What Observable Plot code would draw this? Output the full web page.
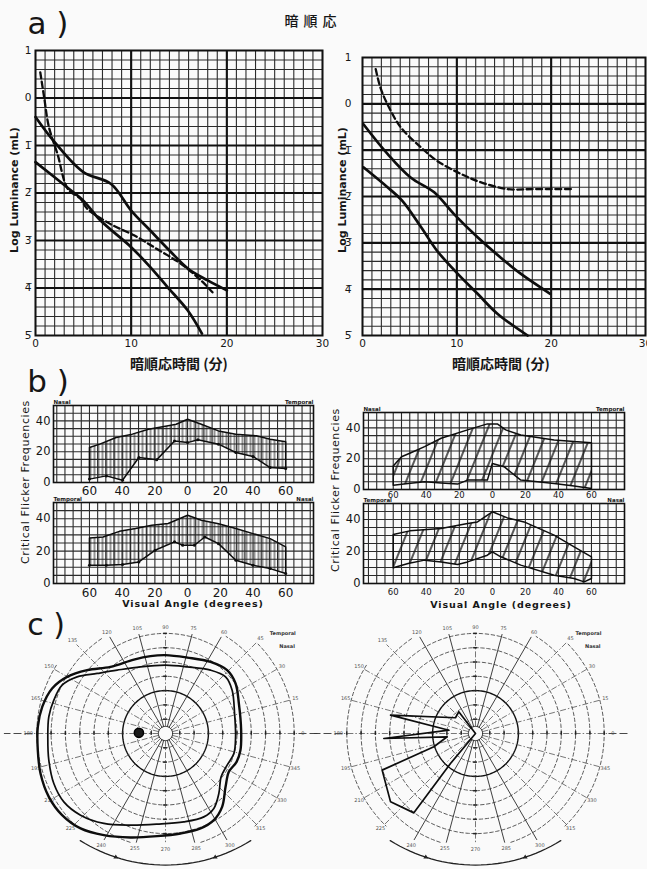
<!DOCTYPE html>
<html lang="ja">
<head>
<meta charset="utf-8">
<script src="https://cdn.jsdelivr.net/npm/d3@7"></script>
<script src="https://cdn.jsdelivr.net/npm/@observablehq/plot@0.6"></script>
<style>
html,body{margin:0;padding:0;background:#fafafa;}
#page{position:relative;width:647px;height:869px;overflow:hidden;background:#fafafa;color:#161616;font-family:"DejaVu Sans",sans-serif;}
.t{position:absolute;white-space:nowrap;line-height:1;}
.p{position:absolute;}
</style>
</head>
<body>
<div id="page"></div>
<script>
// ================= DATA =================
// a) 暗順応 : dark adaptation (time in min, log luminance in mL)
const timeTicks = [0, 10, 20, 30];
const lumTicks = [1, 0, -1, -2, -3, -4, -5];

const aLeftUpperT = [0, 2, 5, 7.9, 10, 12, 14, 16, 18, 20];
const aLeftUpperL = [-0.40, -0.93, -1.56, -1.81, -2.37, -2.79, -3.21, -3.60, -3.84, -4.05];
const aLeftLowerT = [0, 3.3, 5, 6.8, 10, 12, 13.8, 15.9, 17.4];
const aLeftLowerL = [-1.35, -1.88, -2.16, -2.58, -3.14, -3.56, -3.98, -4.47, -4.96];
const aLeftDashT = [0.5, 0.9, 1.4, 2.3, 3.4, 4.7, 5.4, 7.8, 10.3, 12.7, 15.2, 17.3, 18.5];
const aLeftDashL = [0.54, 0.02, -0.61, -1.18, -1.92, -2.12, -2.33, -2.65, -2.89, -3.18, -3.49, -3.84, -4.09];

const aRightUpperT = [0.1, 2.65, 5.1, 7.6, 9.7, 12.2, 14.6, 16.8, 19.9];
const aRightUpperL = [-0.44, -1.08, -1.59, -1.91, -2.38, -2.88, -3.31, -3.67, -4.10];
const aRightLowerT = [0.1, 2.65, 4.2, 6.2, 7.9, 10.1, 12.2, 14.3, 17.5];
const aRightLowerL = [-1.37, -1.80, -2.09, -2.66, -3.17, -3.67, -4.10, -4.53, -5.0];
const aRightDashT = [1.4, 1.9, 2.65, 4.06, 6.2, 7.9, 10.4, 12.5, 15.4, 18.2, 22.1];
const aRightDashL = [0.75, 0.35, -0.01, -0.51, -0.94, -1.23, -1.51, -1.69, -1.84, -1.84, -1.84];

// b) Critical flicker frequencies vs visual angle (degrees)
const angleTicks = [-60, -40, -20, 0, 20, 40, 60];
const cffTicks = [0, 20, 40];

const bLT_upX = [-60, -53.7, -43.7, -33.8, -23.9, -11.9, -7, 0, 8.4, 18.9, 29.5, 42.1, 50.5, 60];
const bLT_upY = [22.7, 24.9, 29.2, 31.4, 34.6, 36.8, 37.8, 41.1, 37.8, 33.5, 31.4, 30.3, 28.1, 26.4];
const bLT_loX = [-60, -49.7, -39.8, -29.8, -18.9, -8, 0, 6.3, 18.9, 29.5, 40, 50.5, 60];
const bLT_loY = [2.2, 4.3, 1.5, 16.2, 14.7, 27.0, 25.9, 27.7, 24.9, 19.5, 16.9, 9.7, 9.1];

const bLB_upX = [-60, -51.7, -41.7, -31.8, -21.9, -11.9, -5, 0, 8.4, 18.9, 29.5, 40, 50.5, 60];
const bLB_upY = [28.1, 28.7, 32.2, 33.9, 35.9, 37.0, 40.0, 42.1, 39.0, 36.9, 33.9, 30.8, 27.7, 22.6];
const bLB_loX = [-60, -49.7, -39.8, -29.8, -19.9, -8, -3, 4.2, 10.5, 18.9, 29.5, 40, 50.5, 60];
const bLB_loY = [11.3, 11.3, 11.7, 13.3, 20.5, 25.7, 23.6, 23.6, 28.7, 24.6, 14.4, 11.3, 9.2, 6.2];

const bRT_upX = [-60, -55, -50, -41, -31, -15, -3, 3, 8.1, 17.2, 37.4, 49.5, 60];
const bRT_upY = [15.2, 21.3, 23.5, 27.8, 33.3, 38.7, 42.6, 42.6, 38.7, 35.4, 32.2, 31.1, 30.4];
const bRT_loX = [-60, -51, -41, -31, -21, -15, -3, 0, 7.1, 17.2, 27.3, 37.4, 49.5, 60];
const bRT_loY = [2.8, 3.9, 5.0, 4.3, 3.5, 6.1, 6.1, 16.9, 14.8, 6.1, 5.0, 3.9, 2.2, 0.7];

const bRB_upX = [-60, -50, -31, -15, -9, 0, 9.1, 19.2, 37.4, 49.5, 60];
const bRB_upY = [30.6, 32.9, 34.4, 37.5, 38.5, 44.8, 41.0, 38.5, 30.2, 22.9, 16.7];
const bRB_loX = [-60, -51, -41, -31, -21, -15, -3, 0, 5.1, 17.2, 37.4, 49.5, 55.6, 60];
const bRB_loY = [9.8, 12.5, 14.6, 13.5, 11.9, 13.5, 17.7, 19.8, 16.7, 11.5, 5.2, 3.1, 1.0, 3.1];

// c) Goldmann perimetry (degrees: x horizontal, y vertical)
const ringRadii = [10, 20, 30, 40, 50, 60, 70, 80, 90];
const meridianAngles = [0, 15, 30, 45, 60, 75, 90, 105, 120, 135, 150, 165, 180, 195, 210, 225, 240, 255, 270, 285, 300, 315, 330, 345];
const meridianExtent = [92, 90, 90, 90, 78, 72, 70, 72, 78, 88, 90, 90, 92, 90, 90, 90, 86, 79, 77, 79, 86, 90, 90, 90];
const solidMeridians = [60, 75, 105, 120, 240, 255, 285, 300];

const cL_outerX = [0, 15.2, 31.5, 43.1, 49.0, 51.3, 52.9, 52.4, 49.7, 44.3, 42.0, 39.6, 33.8, 24.5, 10.5, -5.8, -24.5, -43.1, -59.4, -72.3, -81.6, -87.4, -89.3, -89.3, -86.2, -79.3, -68.8, -54.8, -38.5, -22.1, -10.5];
const cL_outerY = [54.8, 53.1, 50.1, 44.3, 35.0, 21.0, 2.3, -11.7, -19.8, -26.8, -37.3, -51.3, -60.6, -66.4, -69.9, -71.8, -72.7, -71.1, -66.4, -57.1, -44.3, -28.0, -11.7, 4.7, 18.6, 31.5, 39.6, 44.3, 46.6, 51.7, 54.1];
const cL_innerX = [0, 15.2, 31.5, 42.0, 46.6, 48.3, 49.0, 47.8, 43.1, 38.9, 37.3, 33.8, 26.8, 12.8, -5.8, -24.5, -43.1, -59.4, -71.1, -78.1, -81.6, -82.3, -81.6, -78.1, -72.3, -61.8, -47.8, -33.8, -17.5];
const cL_innerY = [47.8, 46.6, 44.3, 39.6, 30.3, 14.0, -2.3, -14.0, -22.1, -30.3, -42.0, -52.4, -58.3, -61.8, -63.4, -64.1, -62.9, -57.1, -47.8, -35.0, -18.6, -2.3, 11.7, 23.3, 33.8, 39.6, 42.0, 44.3, 46.6];
const cL_blindX = [-18.6];
const cL_blindY = [0.5];

const cR_fieldX = [0, -11.7, -14.0, -59.4, -18.6, -64.1, -19.8, -29.1, -65.3, -59.4, -43.1, -17.5];
const cR_fieldY = [0, 15.2, 11.0, 12.8, 2.3, -3.5, -2.3, -9.3, -25.6, -47.8, -55.5, -21.0];

// ================= HELPERS =================
const page = document.getElementById("page");
const SANS = '"DejaVu Sans", sans-serif';
const CJK = '"Noto Sans CJK JP", sans-serif';
const INK = "#161616";

function place(node, left, top) {
  const d = document.createElement("div");
  d.className = "p";
  d.style.left = left + "px";
  d.style.top = top + "px";
  d.appendChild(node);
  page.appendChild(d);
  return node;
}
function addText(str, x, y, o = {}) {
  const d = document.createElement("div");
  d.className = "t";
  d.textContent = str;
  d.style.left = x + "px";
  d.style.top = y + "px";
  d.style.fontSize = (o.size || 12) + "px";
  d.style.fontWeight = o.weight || 400;
  d.style.fontFamily = o.family || SANS;
  d.style.letterSpacing = (o.spacing || 0) + "px";
  d.style.color = o.color || INK;
  d.style.transform = `translate(-50%,-50%) rotate(${o.rotate || 0}deg)`;
  page.appendChild(d);
}
function addPattern(svg, id, spacing, angle, sw) {
  const ns = "http://www.w3.org/2000/svg";
  const defs = document.createElementNS(ns, "defs");
  const p = document.createElementNS(ns, "pattern");
  p.setAttribute("id", id);
  p.setAttribute("patternUnits", "userSpaceOnUse");
  p.setAttribute("width", spacing);
  p.setAttribute("height", spacing);
  p.setAttribute("patternTransform", `rotate(${angle})`);
  const l = document.createElementNS(ns, "line");
  l.setAttribute("x1", spacing / 2); l.setAttribute("x2", spacing / 2);
  l.setAttribute("y1", 0); l.setAttribute("y2", spacing);
  l.setAttribute("stroke", "#151515");
  l.setAttribute("stroke-width", sw);
  p.appendChild(l);
  defs.appendChild(p);
  svg.insertBefore(defs, svg.firstChild);
}
const zip = (xs, ys) => xs.map((x, i) => ({x, y: ys[i]}));
const svgOf = (n) => n.tagName.toLowerCase() === "svg" ? n : n.querySelector("svg");

// ================= a) =================
const lumFmt = d => d > 0 ? String(d) : d === 0 ? "0" : String(-d) + "\u0305";

function darkChart({left, top, width, height, mL, mR, mT, mB, yPad, upper, lower, dashed}) {
  const fineX = d3.range(0, 31);
  const fineY = d3.range(0, 31).map(i => +(-5 + i * 0.2).toFixed(2));
  const node = Plot.plot({
    width, height, marginLeft: mL, marginRight: mR, marginTop: mT, marginBottom: mB,
    style: {background: "transparent", fontFamily: SANS, fontSize: "10.5px", color: INK, overflow: "visible"},
    x: {domain: [0, 30], ticks: timeTicks, tickSize: 0, tickPadding: 4, label: null},
    y: {domain: [-5, 1], ticks: lumTicks, tickFormat: lumFmt, tickSize: 0, tickPadding: yPad, label: null},
    marks: [
      Plot.ruleX(fineX, {stroke: "#2b2b2b", strokeWidth: 1.1}),
      Plot.ruleY(fineY, {stroke: "#2b2b2b", strokeWidth: 1.1}),
      Plot.ruleX(timeTicks.slice(1, -1), {stroke: "#111", strokeWidth: 2.1}),
      Plot.ruleY(lumTicks.slice(1, -1), {stroke: "#111", strokeWidth: 2.1}),
      Plot.frame({stroke: "#111", strokeWidth: 2}),
      Plot.line(zip(...upper), {x: "x", y: "y", stroke: "#0d0d0d", strokeWidth: 2.7, curve: "catmull-rom"}),
      Plot.line(zip(...lower), {x: "x", y: "y", stroke: "#0d0d0d", strokeWidth: 2.7, curve: "catmull-rom"}),
      Plot.line(zip(...dashed), {x: "x", y: "y", stroke: "#0d0d0d", strokeWidth: 2.3, strokeDasharray: "6,3.5", curve: "catmull-rom"})
    ]
  });
  place(node, left, top);
}

darkChart({left: 0, top: 40, width: 330, height: 325, mL: 35, mR: 8, mT: 10, mB: 30, yPad: 4,
  upper: [aLeftUpperT, aLeftUpperL], lower: [aLeftLowerT, aLeftLowerL], dashed: [aLeftDashT, aLeftDashL]});
darkChart({left: 325, top: 40, width: 322, height: 325, mL: 37, mR: 2, mT: 17, mB: 30, yPad: 11,
  upper: [aRightUpperT, aRightUpperL], lower: [aRightLowerT, aRightLowerL], dashed: [aRightDashT, aRightDashL]});

addText("暗順応", 313, 20, {size: 14, family: CJK, spacing: 5, weight: 500});
addText("a )", 48, 23, {size: 31});
addText("Log Luminance (mL)", 14, 190, {size: 11, rotate: -90, weight: 600});
addText("Log Luminance (mL)", 342, 190, {size: 11, rotate: -90, weight: 600});
addText("暗順応時間 (分)", 179, 363, {size: 14, family: CJK, weight: 700});
addText("暗順応時間 (分)", 501, 363, {size: 14, family: CJK, weight: 700});

// ================= b) =================
let pid = 0;
function cffChart({left, width, frame, xDomain, up, lo, hatch, labelL, labelR, xFont, xPad, dots}) {
  const [fl, fr, ft, fb] = frame;
  const top = ft - 12;
  const height = (fb + 17) - top;
  const id = "hatch" + (pid++);
  const gx = d3.range(-80, 81, 5).filter(v => v > xDomain[0] + 0.5 && v < xDomain[1] - 0.5);
  const gy = d3.range(5, 50, 5);
  const poly = zip(...up).concat(zip(...lo).reverse());
  const node = Plot.plot({
    width, height, marginLeft: fl - left, marginRight: left + width - fr, marginTop: 12, marginBottom: height - 12 - (fb - ft),
    style: {background: "transparent", fontFamily: SANS, fontSize: "11.5px", color: INK, overflow: "visible"},
    x: {domain: xDomain, ticks: angleTicks, tickFormat: d => String(Math.abs(d)), tickSize: 0, tickPadding: xPad, label: null},
    y: {domain: [0, 50], ticks: cffTicks, tickSize: 0, tickPadding: 3, label: null},
    marks: [
      Plot.ruleX(gx, {stroke: "#2b2b2b", strokeWidth: 1.1}),
      Plot.ruleY(gy, {stroke: "#2b2b2b", strokeWidth: 1.1}),
      Plot.frame({stroke: "#111", strokeWidth: 1.6}),
      Plot.line(poly, {x: "x", y: "y", curve: "linear-closed", fill: `url(#${id})`, stroke: "#0d0d0d", strokeWidth: 1.5}),
      dots ? Plot.dot(zip(...lo), {x: "x", y: "y", r: 1.5, fill: "#0d0d0d"}) : null,
      Plot.text([labelL], {frameAnchor: "top-left", text: d => d, dy: -5, textAnchor: "start", fontSize: 5.5, fontWeight: "bold"}),
      Plot.text([labelR], {frameAnchor: "top-right", text: d => d, dy: -5, textAnchor: "end", fontSize: 5.5, fontWeight: "bold"})
    ]
  });
  const svg = svgOf(node);
  if (hatch === "v") addPattern(svg, id, 4, 0, 0.9);
  else addPattern(svg, id, 14, 22, 1.4);
  place(node, left, top);
  if (xFont) svg.querySelectorAll("g[aria-label='x-axis tick label'] text, g[aria-label='x-axis'] text").forEach(t => t.setAttribute("font-size", xFont));
}

cffChart({left: 0, width: 330, frame: [53, 313, 405, 482], xDomain: [-82, 77], up: [bLT_upX, bLT_upY], lo: [bLT_loX, bLT_loY], hatch: "v", labelL: "Nasal", labelR: "Temporal", xFont: 12, xPad: 4, dots: true});
cffChart({left: 0, width: 330, frame: [53, 313, 502, 583], xDomain: [-82, 77], up: [bLB_upX, bLB_upY], lo: [bLB_loX, bLB_loY], hatch: "v", labelL: "Temporal", labelR: "Nasal", xFont: 12, xPad: 5, dots: true});
cffChart({left: 325, width: 322, frame: [363, 624, 412, 489], xDomain: [-78, 80], up: [bRT_upX, bRT_upY], lo: [bRT_loX, bRT_loY], hatch: "d", labelL: "Nasal", labelR: "Temporal", xFont: 8.5, xPad: 2, dots: false});
cffChart({left: 325, width: 322, frame: [363, 624, 503, 583], xDomain: [-78, 80], up: [bRB_upX, bRB_upY], lo: [bRB_loX, bRB_loY], hatch: "d", labelL: "Temporal", labelR: "Nasal", xFont: 8.5, xPad: 5, dots: false});

addText("b )", 48, 381, {size: 31});
addText("Critical Flicker Frequencies", 25, 482, {size: 11, rotate: -90, spacing: 0.6});
addText("Critical Flicker Frequencies", 335, 490, {size: 11, rotate: -90, spacing: 0.6});
addText("Visual Angle (degrees)", 193, 604, {size: 9.5, spacing: 0.9, weight: 600});
addText("Visual Angle (degrees)", 501, 605, {size: 9.5, spacing: 0.9, weight: 600});

// ================= c) =================
function extentAt(theta) {
  const t = ((theta % 360) + 360) % 360;
  const i = Math.floor(t / 15), f = (t - i * 15) / 15;
  const a = meridianExtent[i % 24], b = meridianExtent[(i + 1) % 24];
  return a + (b - a) * f;
}
const rad = a => a * Math.PI / 180;

function perimetry({left, top, width, height, cx, cy, marks, tl}) {
  const k = 1.43;
  const xd = [(left - cx) / k, (left + width - cx) / k];
  const yd = [-(top + height - cy) / k, (cy - top) / k];
  const ringPts = [];
  for (const r of ringRadii) {
    for (let a = 0; a <= 360; a += 2) {
      const ok = extentAt(a) >= r - 0.5;
      ringPts.push({r, x: ok ? r * Math.cos(rad(a)) : NaN, y: ok ? r * Math.sin(rad(a)) : NaN});
    }
  }
  const mer = meridianAngles.map((a, i) => ({a, e: meridianExtent[i]}));
  const merSolid = mer.filter(d => solidMeridians.includes(d.a));
  const merDash = mer.filter(d => !solidMeridians.includes(d.a));
  const inner = d3.range(0, 361, 10).map(a => ({x: 5 * Math.cos(rad(a)), y: 5 * Math.sin(rad(a))}));
  const scaleArc = d3.range(-122, -57, 2).map(a => ({x: 112.5 * Math.cos(rad(a)), y: 20.5 + 112.5 * Math.sin(rad(a))}));
  const node = Plot.plot({
    width, height, margin: 0,
    style: {background: "transparent", fontFamily: SANS, color: INK, overflow: "visible"},
    x: {domain: xd, axis: null},
    y: {domain: yd, axis: null},
    marks: [
      Plot.line(ringPts.filter(d => d.r !== 30), {x: "x", y: "y", z: "r", stroke: "#4a4a4a", strokeWidth: 0.9, strokeDasharray: "3.5,2.5"}),
      Plot.line(ringPts.filter(d => d.r === 30), {x: "x", y: "y", stroke: "#111", strokeWidth: 1.4}),
      Plot.line(inner, {x: "x", y: "y", stroke: "#222", strokeWidth: 1}),
      Plot.link(merDash, {x1: d => 5 * Math.cos(rad(d.a)), y1: d => 5 * Math.sin(rad(d.a)), x2: d => d.e * Math.cos(rad(d.a)), y2: d => d.e * Math.sin(rad(d.a)), stroke: "#555", strokeWidth: 0.8, strokeDasharray: "6,2,1.5,2"}),
      Plot.link(merSolid, {x1: d => 5 * Math.cos(rad(d.a)), y1: d => 5 * Math.sin(rad(d.a)), x2: d => d.e * Math.cos(rad(d.a)), y2: d => d.e * Math.sin(rad(d.a)), stroke: "#2a2a2a", strokeWidth: 0.9}),
      Plot.link([{x1: 93, x2: 108}, {x1: -93, x2: -113}], {x1: "x1", x2: "x2", y1: 0, y2: 0, stroke: "#333", strokeWidth: 0.9, strokeDasharray: "8,3"}),
      Plot.ruleX(ringRadii.flatMap(r => [r, -r]), {x: d => d, y1: -1.3, y2: 1.3, stroke: "#222", strokeWidth: 1.5}),
      Plot.ruleY(ringRadii.filter(r => r <= 70).flatMap(r => [r, -r]), {y: d => d, x1: -1.3, x2: 1.3, stroke: "#222", strokeWidth: 1.5}),
      Plot.text(mer, {x: d => (d.e + 4) * Math.cos(rad(d.a)), y: d => (d.e + 4) * Math.sin(rad(d.a)), text: d => String(d.a), fontSize: 5, fill: "#555"}),
      Plot.line(scaleArc, {x: "x", y: "y", stroke: "#222", strokeWidth: 1.3}),
      Plot.dot([{x: 112.5 * Math.cos(rad(-108)), y: 20.5 + 112.5 * Math.sin(rad(-108))}, {x: 112.5 * Math.cos(rad(-72)), y: 20.5 + 112.5 * Math.sin(rad(-72))}], {x: "x", y: "y", r: 1.8, fill: "#222", symbol: "triangle"}),
      Plot.text(["Temporal", "Nasal"], {x: (d, i) => tl[i][0], y: (d, i) => tl[i][1], text: d => d, fontSize: 5, fontWeight: "bold", fill: "#333"}),
      ...marks
    ]
  });
  place(node, left, top);
}

perimetry({left: 0, top: 615, width: 330, height: 254, cx: 165, cy: 733, tl: [[82, 70], [85, 61]], marks: [
  Plot.line(zip(cL_outerX, cL_outerY), {x: "x", y: "y", curve: "catmull-rom-closed", stroke: "#0d0d0d", strokeWidth: 2.4}),
  Plot.line(zip(cL_innerX, cL_innerY), {x: "x", y: "y", curve: "catmull-rom-closed", stroke: "#0d0d0d", strokeWidth: 1.7}),
  Plot.dot(zip(cL_blindX, cL_blindY), {x: "x", y: "y", r: 4.6, fill: "#1a1a1a", stroke: "#000"})
]});
perimetry({left: 325, top: 615, width: 322, height: 254, cx: 475, cy: 733, tl: [[79, 70], [82, 61]], marks: [
  Plot.line(zip(cR_fieldX, cR_fieldY), {x: "x", y: "y", curve: "linear-closed", stroke: "#0d0d0d", strokeWidth: 1.7})
]});

addText("c )", 46, 625, {size: 30});
</script>
</body>
</html>
